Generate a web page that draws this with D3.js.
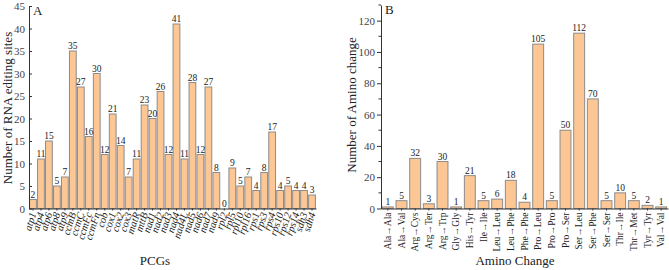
<!DOCTYPE html>
<html><head><meta charset="utf-8">
<script src="https://cdn.jsdelivr.net/npm/d3@7"></script>
<style>
body{margin:0;background:#fff;}
text{font-family:"Liberation Serif","Times New Roman",serif;}
</style></head>
<body><svg id="c" width="669" height="270"></svg>
<script>
const genes = ["atp1","atp4","atp6","atp8","atp9","ccmB","ccmC","ccmFc","ccmFn","cob","cox1","cox2","cox3","matR","mttB","nad1","nad2","nad3","nad4","nad4L","nad5","nad6","nad7","nad9","rpl2","rpl5","rpl10","rpl16","rps1","rps3","rps4","rps10","rps12","rps14","sdh3","sdh4"];
const geneSites = [2,11,15,5,7,35,27,16,30,12,21,14,7,11,23,20,26,12,41,11,28,12,27,8,0,9,5,7,4,8,17,4,5,4,4,3];
const aminoChanges = ["Ala→Ala","Ala→Val","Arg→Cys","Arg→Ter","Arg→Trp","Gly→Gly","His→Tyr","Ile→Ile","Leu→Leu","Leu→Phe","Phe→Phe","Pro→Leu","Pro→Pro","Pro→Ser","Ser→Leu","Ser→Phe","Ser→Ser","Thr→Ile","Thr→Met","Tyr→Tyr","Val→Val"];
const aminoCounts = [1,5,32,3,30,1,21,5,6,18,4,105,5,50,112,70,5,10,5,2,1];
const ticksA = [0,5,10,15,20,25,30,35,40,45];
const ticksB = [0,20,40,60,80,100,120];

const svg = d3.select("#c");
const FILL = "#fcc794", STROKE = "#8c8c8c", AX = "#333";

function panel(o){
  const g = svg.append("g");
  const x = d3.scaleBand().domain(o.cats).range([o.x0, o.x1]).paddingInner(o.pad).paddingOuter(o.pad/2);
  const y = d3.scaleLinear().domain(o.dom).range([o.y0, o.y1]);
  g.selectAll("rect.bar").data(o.vals).join("rect")
    .attr("x",(d,i)=>x(o.cats[i])).attr("width",x.bandwidth())
    .attr("y",d=>y(d)).attr("height",d=>y(0)-y(d))
    .attr("fill",FILL).attr("stroke",STROKE).attr("stroke-width",1);
  g.selectAll("text.val").data(o.vals).join("text")
    .attr("x",(d,i)=>x(o.cats[i])+x.bandwidth()/2).attr("y",d=>y(d)-2)
    .attr("text-anchor","middle").attr("font-size",9.5).attr("fill","#222").text(d=>d);
  const ya = g.append("g").attr("transform",`translate(${o.x0},0)`)
    .call(d3.axisLeft(y).tickValues(o.ticks).tickSize(o.tickIn? -3 : 4).tickSizeOuter(0).tickPadding(o.tickIn?4:2));
  ya.select(".domain").attr("stroke",AX);
  ya.selectAll(".tick line").attr("stroke",AX);
  ya.selectAll(".tick text").attr("font-family","Liberation Serif").attr("font-size",11).attr("fill","#444");
  if(o.minor){
    ya.selectAll(".mt").data(o.minor).join("line").attr("x1",0).attr("x2",-2.5)
      .attr("y1",d=>y(d)).attr("y2",d=>y(d)).attr("stroke",AX);
  }
  const xa = g.append("g").attr("transform",`translate(0,${o.y0})`)
    .call(d3.axisBottom(x).tickSize(2).tickSizeOuter(0).tickFormat(""));
  xa.select(".domain").attr("stroke",AX).attr("stroke-width",1.2);
  xa.selectAll(".tick line").attr("stroke",AX);
  g.selectAll("text.xl").data(o.cats).join("text")
    .attr("transform",d=>`translate(${x(d)+x.bandwidth()/2+o.lx},${o.y0+4}) rotate(${o.rot})`)
    .attr("text-anchor","end").attr("dy","0.35em")
    .attr("font-size",o.lfs).attr("font-style",o.italic?"italic":"normal").attr("fill","#222").text(d=>d);
  g.append("text").attr("x",o.x0+4).attr("y",o.y1+9).attr("font-size",13).attr("fill","#222").text(o.letter);
  g.append("text").attr("transform",`translate(${o.ytx},${o.yty}) rotate(-90)`).attr("text-anchor","middle")
    .attr("font-size",13).attr("fill","#222").text(o.ytitle);
  g.append("text").attr("x",o.xtx).attr("y",265).attr("text-anchor","middle").attr("font-size",13).attr("fill","#222").text(o.xtitle);
}

panel({cats:genes, vals:geneSites, x0:29, x1:316, y0:208.5, y1:6, dom:[0,45], pad:0.15,
  ticks:ticksA, tickIn:true, rot:-72, lx:0, lfs:10.5, italic:true, letter:"A",
  ytitle:"Number of RNA editing sites", ytx:12, yty:108, xtitle:"PCGs", xtx:155});
panel({cats:aminoChanges, vals:aminoCounts, x0:381, x1:668, y0:208.5, y1:5, dom:[0,130], pad:0.2,
  ticks:ticksB, tickIn:false, minor:[10,30,50,70,90,110,130], rot:-90, lx:0, lfs:9.5, italic:false, letter:"B",
  ytitle:"Number of Amino change", ytx:356, yty:105, xtitle:"Amino Change", xtx:515});
</script></body></html>
